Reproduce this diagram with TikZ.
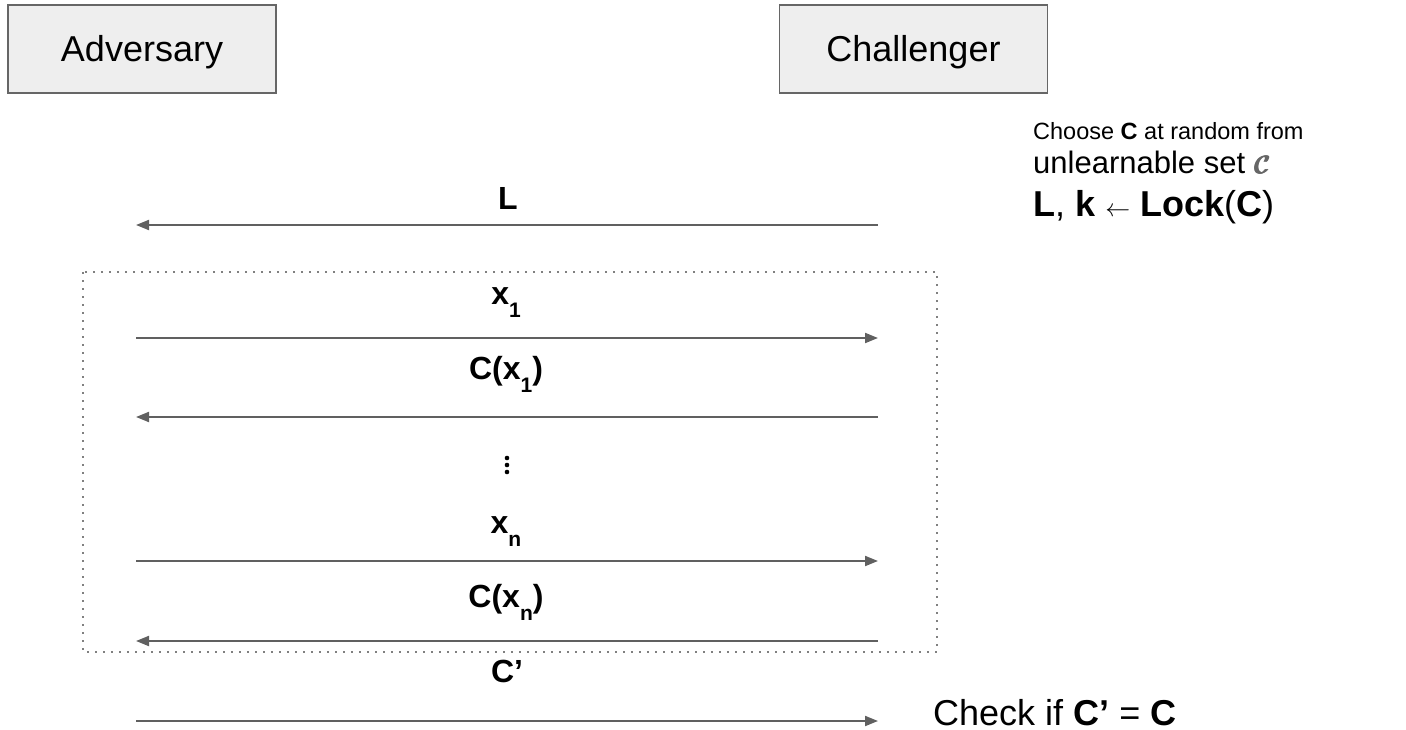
\documentclass[tikz,border=0pt]{standalone}
\usepackage{fontspec}
\setmainfont{Liberation Sans}
\usetikzlibrary{arrows.meta}
\definecolor{boxfill}{HTML}{EEEEEE}
\definecolor{boxline}{HTML}{666666}
\definecolor{wire}{HTML}{606060}
\definecolor{dotline}{HTML}{808080}
\definecolor{setgray}{HTML}{666666}
% subscript set low and small, as in the slide
\newcommand{\lowsub}[1]{\raisebox{-13pt}{\fontsize{21}{21}\selectfont\bfseries #1}}
% heavy calligraphic letter, thickened by overprinting
\newcommand{\heavycal}[1]{{\fontsize{38}{38}\selectfont
  \makebox[0pt][l]{$\mathcal{#1}$}%
  \makebox[0pt][l]{\hspace{0.6pt}$\mathcal{#1}$}%
  \makebox[0pt][l]{\hspace{1.2pt}$\mathcal{#1}$}%
  \makebox[0pt][l]{\hspace{1.8pt}$\mathcal{#1}$}%
  \hspace{2.4pt}$\mathcal{#1}$}}
\begin{document}
\begin{tikzpicture}[x=1pt,y=-1pt,
  party/.style={draw=boxline,line width=1.8pt,fill=boxfill,minimum width=268pt,
    minimum height=88pt,inner sep=0pt,font=\fontsize{36}{43}\selectfont,
    text height=26pt,text depth=0pt},
  msg/.style={inner sep=0pt,anchor=base,font=\fontsize{32}{38}\selectfont\bfseries},
  note/.style={inner sep=0pt,anchor=base west,text depth=0pt},
  wirearrow/.style={draw=wire,line width=2pt,-{Triangle[length=13pt,width=10pt]}},
  loopbox/.style={draw=dotline,line width=1.8pt,dash pattern=on 1.8pt off 6.2pt}]
\useasboundingbox (0,0) rectangle (1406,730);

% the two parties
\node[party] (adv) at (142,49) {Adversary};
\node[party] (chal) at (913.5,49) {Challenger};

% challenger's setup
\node[note,font=\fontsize{23.5}{28}\selectfont] (setup1) at (1033,140)
  {Choose \textbf{C} at random from};
\node[note,font=\fontsize{31}{36}\selectfont] (setup2) at (1033,174)
  {unlearnable set \textcolor{setgray}{\heavycal{C}}};
\node[note,font=\fontsize{36}{43}\selectfont] (setup3) at (1033,217)
  {\textbf{L}, \textbf{k} $\leftarrow$ \textbf{Lock}(\textbf{C})};

% query phase
\draw[loopbox] (83,272) rectangle (937,652);

% message end points on each side
\foreach \i/\y in {1/225,2/338,3/417,4/561,5/641,6/721}{
  \coordinate (a\i) at (136,\y);
  \coordinate (c\i) at (878,\y);
}

\node[msg] (mL) at (508,210) {L};
\draw[wirearrow] (c1) -- (a1);

\node[msg] (mx1) at (506,305) {x\lowsub{1}};
\draw[wirearrow] (a2) -- (c2);

\node[msg] (mC1) at (506,379) {C(x\lowsub{1})};
\draw[wirearrow] (c3) -- (a3);

\foreach \y in {458,465,472}
  \fill (507,\y) circle (2.3);

\node[msg] (mxn) at (506,533) {x\lowsub{n}};
\draw[wirearrow] (a4) -- (c4);

\node[msg] (mCn) at (506,607) {C(x\lowsub{n})};
\draw[wirearrow] (c5) -- (a5);

% final guess
\node[msg] (mCp) at (507,682) {C’};
\draw[wirearrow] (a6) -- (c6);

\node[note,font=\fontsize{36}{43}\selectfont] (check) at (933,725)
  {Check if \textbf{C’} = \textbf{C}};
\end{tikzpicture}
\end{document}
